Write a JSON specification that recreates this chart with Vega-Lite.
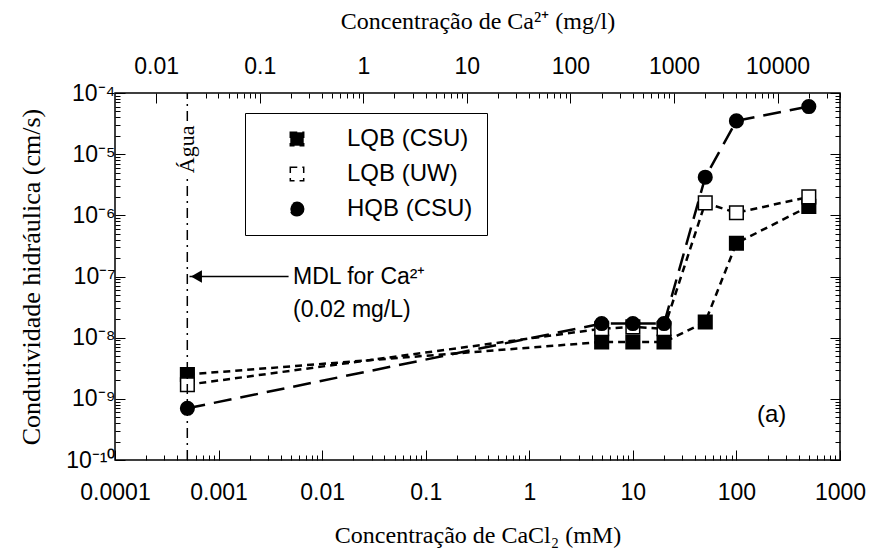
{
  "$schema": "https://vega.github.io/schema/vega-lite/v6.json",
  "autosize": "none",
  "width": 725,
  "height": 367,
  "padding": {"left": 115, "top": 93, "right": 35, "bottom": 92},
  "background": "white",
  "config": {
    "view": {"stroke": "black", "strokeWidth": 1.5},
    "axis": {"domainColor": "black", "tickColor": "black", "labelColor": "black", "titleColor": "black", "grid": false,
             "labelFont": "Liberation Sans", "labelFontSize": 23, "titleFont": "Liberation Serif", "titleFontSize": 24, "titleFontWeight": "normal"},
    "legend": {"strokeColor": "black", "fillColor": "white", "padding": 14, "labelFont": "Liberation Sans", "labelFontSize": 24,
               "labelColor": "black", "symbolSize": 180, "rowPadding": 11, "symbolStrokeWidth": 1.5, "symbolStrokeColor": "black"}
  },
  "datasets": {
    "k": [
      {"series": "LQB (CSU)", "conc": 0.0005, "k": 2.5e-9},
      {"series": "LQB (CSU)", "conc": 5, "k": 8.5e-9},
      {"series": "LQB (CSU)", "conc": 10, "k": 8.5e-9},
      {"series": "LQB (CSU)", "conc": 20, "k": 8.5e-9},
      {"series": "LQB (CSU)", "conc": 50, "k": 1.8e-8},
      {"series": "LQB (CSU)", "conc": 100, "k": 3.5e-7},
      {"series": "LQB (CSU)", "conc": 500, "k": 1.4e-6},
      {"series": "LQB (UW)", "conc": 0.0005, "k": 1.7e-9},
      {"series": "LQB (UW)", "conc": 5, "k": 1.4e-8},
      {"series": "LQB (UW)", "conc": 10, "k": 1.5e-8},
      {"series": "LQB (UW)", "conc": 20, "k": 1.4e-8},
      {"series": "LQB (UW)", "conc": 50, "k": 1.6e-6},
      {"series": "LQB (UW)", "conc": 100, "k": 1.1e-6},
      {"series": "LQB (UW)", "conc": 500, "k": 2e-6},
      {"series": "HQB (CSU)", "conc": 0.0005, "k": 7e-10},
      {"series": "HQB (CSU)", "conc": 5, "k": 1.7e-8},
      {"series": "HQB (CSU)", "conc": 10, "k": 1.7e-8},
      {"series": "HQB (CSU)", "conc": 20, "k": 1.7e-8},
      {"series": "HQB (CSU)", "conc": 50, "k": 4.2e-6},
      {"series": "HQB (CSU)", "conc": 100, "k": 3.5e-5},
      {"series": "HQB (CSU)", "conc": 500, "k": 6e-5}
    ]
  },
  "layer": [
    {
      "layer": [
        {
          "data": {"name": "k"},
          "mark": {"type": "line", "color": "black", "strokeWidth": 2.5},
          "encoding": {
            "x": {"field": "conc", "type": "quantitative",
                  "scale": {"type": "log", "domain": [0.0001, 1000], "nice": false},
                  "axis": {"title": "Concentração de CaCl₂ (mM)", "orient": "bottom",
                           "values": [0.0001,0.0002,0.0003,0.0004,0.0005,0.0006,0.0007,0.0008,0.0009,0.001,0.002,0.003,0.004,0.005,0.006,0.007,0.008,0.009,0.01,0.02,0.03,0.04,0.05,0.06,0.07,0.08,0.09,0.1,0.2,0.3,0.4,0.5,0.6,0.7,0.8,0.9,1,2,3,4,5,6,7,8,9,10,20,30,40,50,60,70,80,90,100,200,300,400,500,600,700,800,900,1000],
                           "labelExpr": "abs(log(datum.value)/LN10 - round(log(datum.value)/LN10)) < 0.01 ? format(datum.value, '~g') : ''",
                           "tickSize": {"condition": {"test": "abs(log(datum.value)/LN10 - round(log(datum.value)/LN10)) < 0.01", "value": -10}, "value": -5},
                           "labelPadding": 31, "titlePadding": 19, "domain": false, "labelFlush": false}},
            "y": {"field": "k", "type": "quantitative",
                  "scale": {"type": "log", "domain": [1e-10, 1e-4], "nice": false},
                  "axis": {"title": "Condutividade hidráulica (cm/s)", "orient": "left", "titleFontSize": 26,
                           "values": [1e-10,2e-10,3e-10,4e-10,5e-10,6e-10,7e-10,8e-10,9e-10,1e-9,2e-9,3e-9,4e-9,5e-9,6e-9,7e-9,8e-9,9e-9,1e-8,2e-8,3e-8,4e-8,5e-8,6e-8,7e-8,8e-8,9e-8,1e-7,2e-7,3e-7,4e-7,5e-7,6e-7,7e-7,8e-7,9e-7,1e-6,2e-6,3e-6,4e-6,5e-6,6e-6,7e-6,8e-6,9e-6,1e-5,2e-5,3e-5,4e-5,5e-5,6e-5,7e-5,8e-5,9e-5,1e-4],
                           "labelExpr": "abs(log(datum.value)/LN10 - round(log(datum.value)/LN10)) > 0.01 ? '' : round(log(datum.value)/LN10) == -4 ? '10⁻⁴' : round(log(datum.value)/LN10) == -5 ? '10⁻⁵' : round(log(datum.value)/LN10) == -6 ? '10⁻⁶' : round(log(datum.value)/LN10) == -7 ? '10⁻⁷' : round(log(datum.value)/LN10) == -8 ? '10⁻⁸' : round(log(datum.value)/LN10) == -9 ? '10⁻⁹' : '10⁻¹⁰'",
                           "tickSize": {"condition": {"test": "abs(log(datum.value)/LN10 - round(log(datum.value)/LN10)) < 0.01", "value": -10}, "value": -5},
                           "labelPadding": 10, "titlePadding": 21, "domain": false, "labelFlush": false}},
            "strokeDash": {"field": "series", "type": "nominal",
                           "scale": {"domain": ["LQB (CSU)", "LQB (UW)", "HQB (CSU)"], "range": [[7, 5], [7, 5], [18, 9]]},
                           "legend": {"title": null, "orient": "none", "legendX": 130, "legendY": 20,
                                 "encode": {
                                   "symbols": {"update": {"size": {"value": 180}, "x": {"value": 38}, "stroke": {"value": "black"}, "opacity": {"value": 1}}},
                                   "labels": {"update": {"x": {"value": 88}}}
                                 }}}
          }
        },
        {
          "data": {"name": "k"},
          "mark": {"type": "point", "filled": true, "stroke": "black", "strokeWidth": 1.5, "opacity": 1, "size": 185},
          "encoding": {
            "x": {"field": "conc", "type": "quantitative"},
            "y": {"field": "k", "type": "quantitative"},
            "shape": {"field": "series", "type": "nominal",
                      "scale": {"domain": ["LQB (CSU)", "LQB (UW)", "HQB (CSU)"], "range": ["square", "square", "circle"]},
                      "legend": {"title": null, "orient": "none", "legendX": 130, "legendY": 20,
                                 "encode": {
                                   "symbols": {"update": {"size": {"value": 180}, "x": {"value": 38}, "stroke": {"value": "black"}, "opacity": {"value": 1}}},
                                   "labels": {"update": {"x": {"value": 88}}}
                                 }}},
            "fill": {"field": "series", "type": "nominal",
                     "scale": {"domain": ["LQB (CSU)", "LQB (UW)", "HQB (CSU)"], "range": ["black", "white", "black"]},
                     "legend": {"title": null, "orient": "none", "legendX": 130, "legendY": 20,
                                 "encode": {
                                   "symbols": {"update": {"size": {"value": 180}, "x": {"value": 38}, "stroke": {"value": "black"}, "opacity": {"value": 1}}},
                                   "labels": {"update": {"x": {"value": 88}}}
                                 }}}
          }
        },
        {
          "data": {"values": [{"conc": 219, "k": 5.5e-10, "label": "(a)"}]},
          "mark": {"type": "text", "font": "Liberation Sans", "fontSize": 24, "color": "black", "align": "center", "baseline": "middle"},
          "encoding": {
            "x": {"field": "conc", "type": "quantitative"},
            "y": {"field": "k", "type": "quantitative"},
            "text": {"field": "label"}
          }
        }
      ]
    },
    {
      "layer": [
        {
          "data": {"values": [{"ca": 0.02, "y1": 1e-10, "y2": 4e-6}, {"ca": 0.02, "y1": 3.5e-5, "y2": 1e-4}]},
          "mark": {"type": "rule", "color": "black", "strokeWidth": 1.5, "strokeDash": [10, 5, 2, 5]},
          "encoding": {
            "x": {"field": "ca", "type": "quantitative",
                  "scale": {"type": "log", "domain": [0.004008, 40080], "nice": false},
                  "axis": {"title": "Concentração de Ca²⁺ (mg/l)", "orient": "top",
                           "values": [0.01,0.02,0.03,0.04,0.05,0.06,0.07,0.08,0.09,0.1,0.2,0.3,0.4,0.5,0.6,0.7,0.8,0.9,1,2,3,4,5,6,7,8,9,10,20,30,40,50,60,70,80,90,100,200,300,400,500,600,700,800,900,1000,2000,3000,4000,5000,6000,7000,8000,9000,10000,20000,30000,40000],
                           "labelExpr": "abs(log(datum.value)/LN10 - round(log(datum.value)/LN10)) < 0.01 ? format(datum.value, '~g') : ''",
                           "tickSize": {"condition": {"test": "abs(log(datum.value)/LN10 - round(log(datum.value)/LN10)) < 0.01", "value": -10}, "value": -5},
                           "labelPadding": 25, "titlePadding": 22, "domain": false, "labelFlush": false}},
            "y": {"field": "y1", "type": "quantitative",
                  "scale": {"type": "log", "domain": [1e-10, 1e-4], "nice": false},
                  "axis": {"orient": "right", "title": null, "labels": false, "domain": false,
                           "values": [1e-10,2e-10,3e-10,4e-10,5e-10,6e-10,7e-10,8e-10,9e-10,1e-9,2e-9,3e-9,4e-9,5e-9,6e-9,7e-9,8e-9,9e-9,1e-8,2e-8,3e-8,4e-8,5e-8,6e-8,7e-8,8e-8,9e-8,1e-7,2e-7,3e-7,4e-7,5e-7,6e-7,7e-7,8e-7,9e-7,1e-6,2e-6,3e-6,4e-6,5e-6,6e-6,7e-6,8e-6,9e-6,1e-5,2e-5,3e-5,4e-5,5e-5,6e-5,7e-5,8e-5,9e-5,1e-4],
                           "tickSize": {"condition": {"test": "abs(log(datum.value)/LN10 - round(log(datum.value)/LN10)) < 0.01", "value": -10}, "value": -5}}},
            "y2": {"field": "y2"}
          }
        },
        {
          "data": {"values": [{"ca": 0.02, "k": 1.2e-5, "label": "Água"}]},
          "mark": {"type": "text", "font": "Liberation Serif", "fontSize": 22, "color": "black", "angle": 270, "align": "center", "baseline": "middle"},
          "encoding": {
            "x": {"field": "ca", "type": "quantitative"},
            "y": {"field": "k", "type": "quantitative"},
            "text": {"field": "label"}
          }
        },
        {
          "data": {"values": [{"ca": 0.021, "ca2": 0.19, "k": 1e-7}]},
          "mark": {"type": "rule", "color": "black", "strokeWidth": 1.5},
          "encoding": {
            "x": {"field": "ca", "type": "quantitative"},
            "x2": {"field": "ca2"},
            "y": {"field": "k", "type": "quantitative"}
          }
        },
        {
          "data": {"values": [{"ca": 0.0245, "k": 1e-7}]},
          "mark": {"type": "point", "shape": "triangle-left", "filled": true, "color": "black", "size": 160, "opacity": 1},
          "encoding": {
            "x": {"field": "ca", "type": "quantitative"},
            "y": {"field": "k", "type": "quantitative"}
          }
        },
        {
          "data": {"values": [{"ca": 0.21, "k": 1e-7, "label": "MDL for Ca²⁺"}, {"ca": 0.21, "k": 2.8e-8, "label": "(0.02 mg/L)"}]},
          "mark": {"type": "text", "font": "Liberation Sans", "fontSize": 23, "color": "black", "align": "left", "baseline": "middle"},
          "encoding": {
            "x": {"field": "ca", "type": "quantitative"},
            "y": {"field": "k", "type": "quantitative"},
            "text": {"field": "label"}
          }
        }
      ]
    }
  ],
  "resolve": {"scale": {"x": "independent", "y": "independent"}, "axis": {"x": "independent", "y": "independent"}}
}
